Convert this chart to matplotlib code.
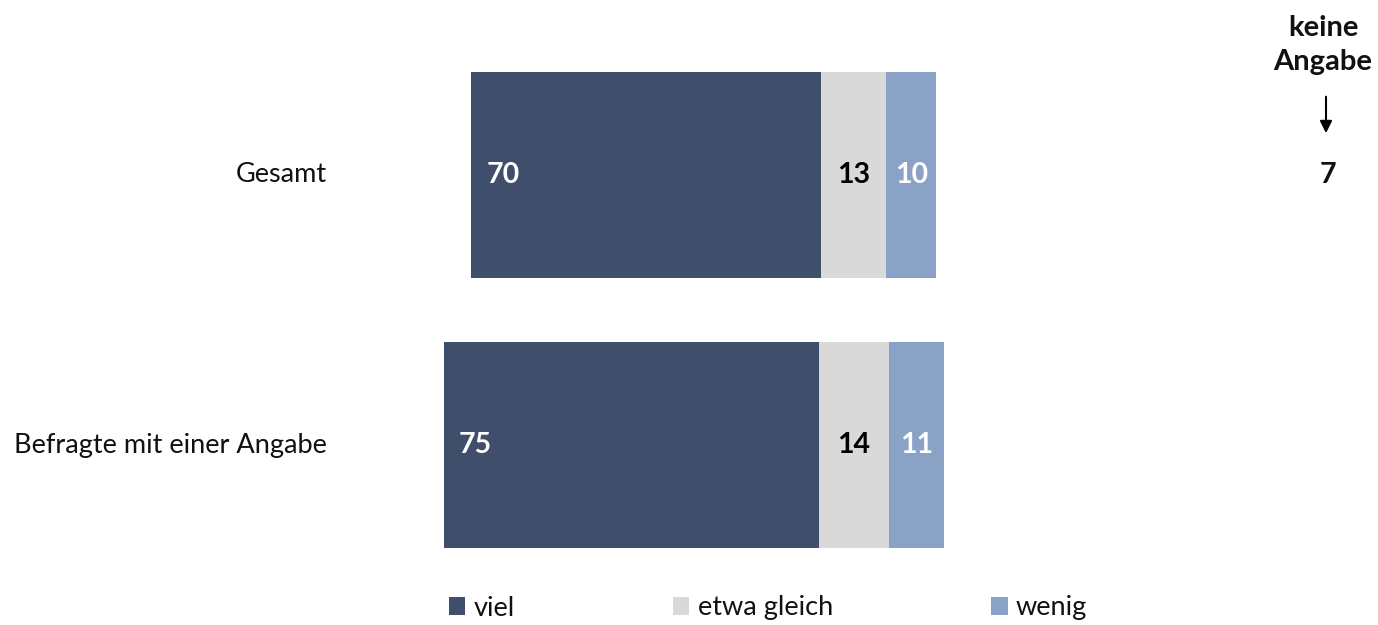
import matplotlib.pyplot as plt
from matplotlib.patches import Patch

plt.rcParams['font.family'] = ['Lato', 'DejaVu Sans']

categories = ["Gesamt", "Befragte mit einer Angabe"]
viel = [70, 75]
gleich = [13, 14]
wenig = [10, 11]
keine_angabe = [7, None]
series_names = ["viel", "etwa gleich", "wenig"]
colors = ["#3E4E6B", "#D9D9D9", "#8AA2C6"]
label_colors = ["white", "black", "white"]

fig = plt.figure(figsize=(13.78, 6.25), dpi=100)
ax = fig.add_axes([0, 0, 1, 1])
# 5 px per percent, zero at the middle of the neutral segment (x px 854)
ax.set_xlim(-854 / 5, (1378 - 854) / 5)
ax.set_ylim((625 - 175) / 270, -175 / 270)
ax.axis("off")

bar_h = 0.763
for i, cat in enumerate(categories):
    vals = [viel[i], gleich[i], wenig[i]]
    left = -(viel[i] + gleich[i] / 2)
    for j, v in enumerate(vals):
        ax.barh(i, v, left=left, height=bar_h, color=colors[j], edgecolor="none")
        if j == 0:
            ax.text(left + 3, i, str(v), ha="left", va="center", fontsize=20.5,
                    fontweight="bold", color=label_colors[j])
        else:
            ax.text(left + v / 2, i, str(v), ha="center", va="center", fontsize=20.5,
                    fontweight="bold", color=label_colors[j])
        left += v
    ax.text(-105.5, i, cat, ha="right", va="center", fontsize=19.5, color="#111111")
    if keine_angabe[i] is not None:
        ax.text(94.8, i, str(keine_angabe[i]), ha="center", va="center", fontsize=20.5,
                fontweight="bold", color="#111111")

# "keine Angabe" header with arrow
fig.text(1323 / 1378, 1 - 45 / 625, "keine\nAngabe", ha="center", va="center",
         fontsize=21, fontweight="bold", linespacing=1.4, color="#111111")
ax.annotate("", xy=(94.4, -0.155), xytext=(94.4, -0.29),
            arrowprops=dict(arrowstyle="-|>", color="black", lw=1.5,
                            mutation_scale=18, shrinkA=0, shrinkB=0))

handles = [Patch(facecolor=c, edgecolor="none") for c in colors]
fig.legend(handles, series_names, loc="center", bbox_to_anchor=(768 / 1378, 1 - 608 / 625),
           ncol=3, frameon=False, fontsize=19.5, handlelength=0.6, handleheight=0.6,
           handletextpad=0.3, columnspacing=5.85, labelcolor="#111111")

fig.savefig("out.png", dpi=100)
